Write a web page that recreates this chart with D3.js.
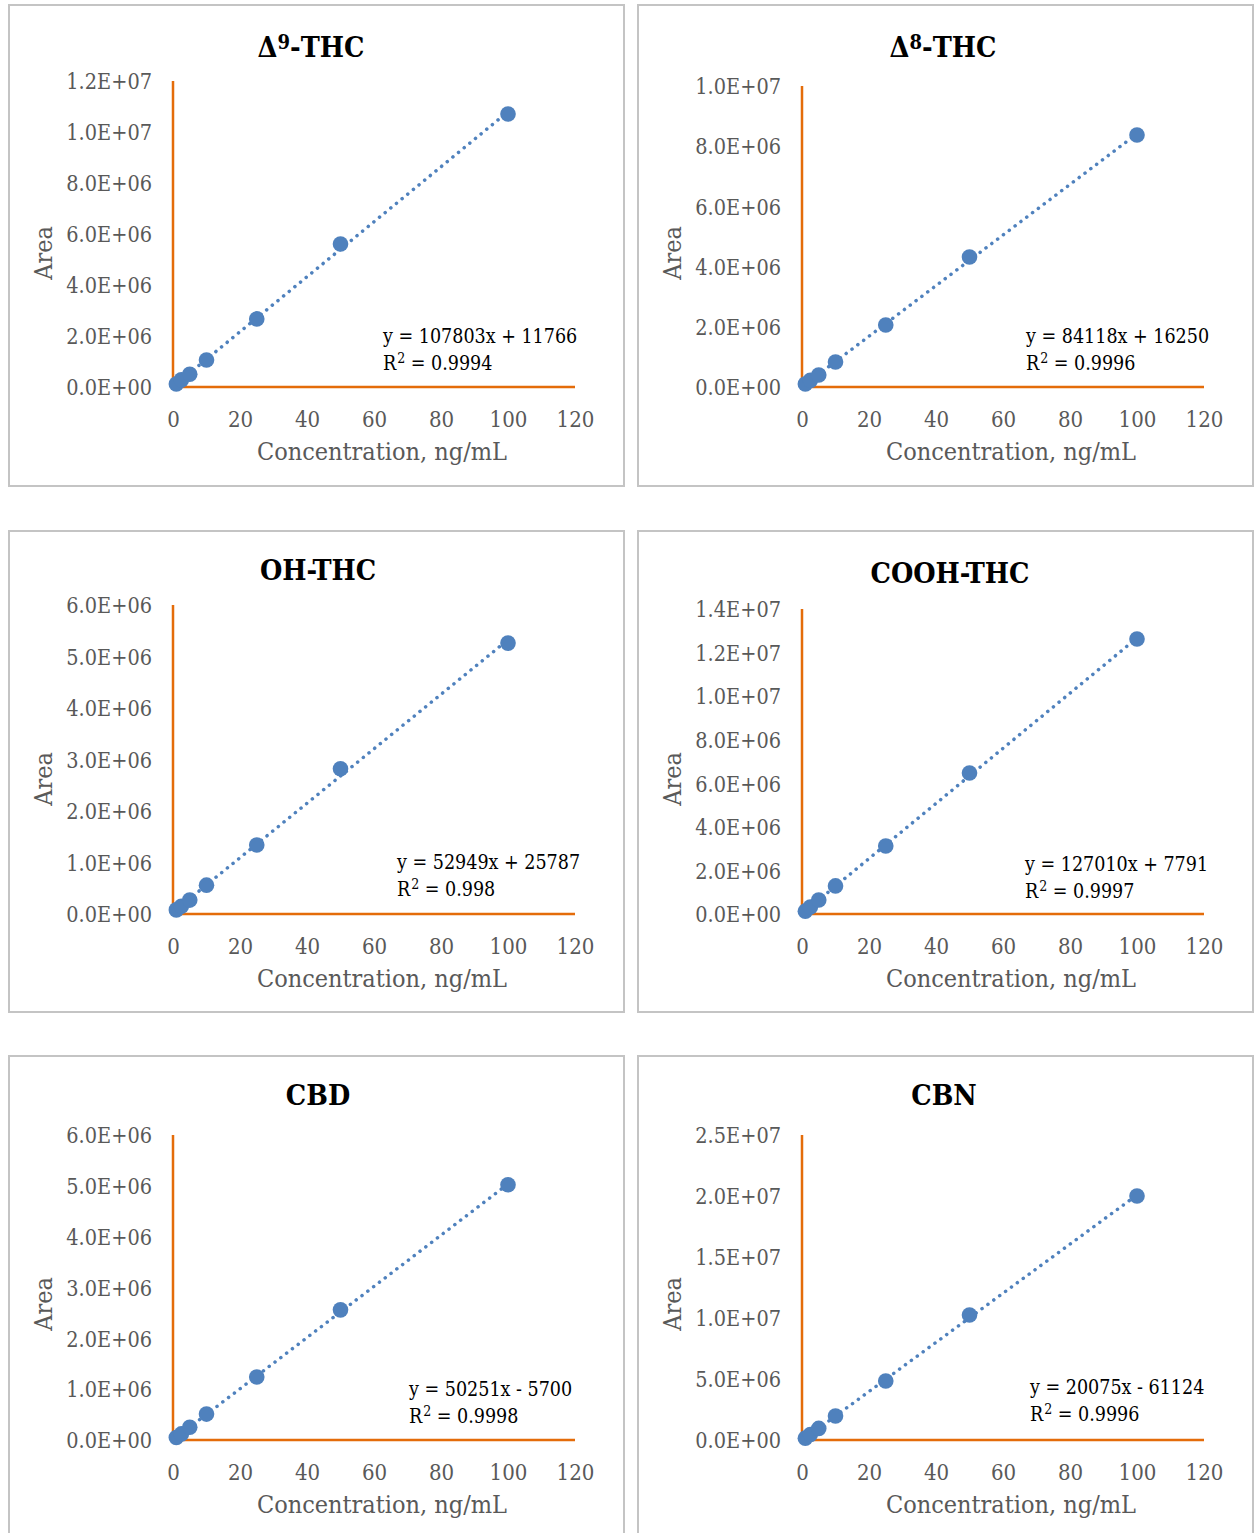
<!DOCTYPE html>
<html>
<head>
<meta charset="utf-8">
<script src="https://cdn.jsdelivr.net/npm/d3@7"></script>
<style>
  html, body { margin: 0; padding: 0; background: #fff; }
  svg { display: block; }
  text { font-family: "DejaVu Serif", serif; font-stretch: condensed; }
</style>
</head>
<body>
<svg id="chart" width="1259" height="1533"></svg>
<script>
// ---------- DATA ----------
const concentrations = [1, 2.5, 5, 10, 25, 50, 100];
const analytes = ["Δ9-THC", "Δ8-THC", "OH-THC", "COOH-THC", "CBD", "CBN"];
const areaD9THC  = [120000, 280000, 500000, 1060000, 2670000, 5610000, 10706000];
const areaD8THC  = [100000, 220000, 400000, 830000, 2060000, 4320000, 8370000];
const areaOHTHC  = [80000, 150000, 270000, 560000, 1340000, 2820000, 5260000];
const areaCOOHTHC= [130000, 320000, 640000, 1290000, 3120000, 6470000, 12620000];
const areaCBD    = [50000, 120000, 250000, 510000, 1240000, 2560000, 5020000];
const areaCBN    = [150000, 450000, 950000, 1970000, 4840000, 10250000, 20000000];
// regression labels as printed on the chart
const slopes     = [107803, 84118, 52949, 127010, 50251, 20075];
const intercepts = [11766, 16250, 25787, 7791, -5700, -61124];
const r2Values   = ["0.9994", "0.9996", "0.998", "0.9997", "0.9998", "0.9996"];
const xTicks = [0, 20, 40, 60, 80, 100, 120];
const yTicksD9THC   = [0, 2e6, 4e6, 6e6, 8e6, 1e7, 1.2e7];
const yTicksD8THC   = [0, 2e6, 4e6, 6e6, 8e6, 1e7];
const yTicksOHTHC   = [0, 1e6, 2e6, 3e6, 4e6, 5e6, 6e6];
const yTicksCOOHTHC = [0, 2e6, 4e6, 6e6, 8e6, 1e7, 1.2e7, 1.4e7];
const yTicksCBD     = [0, 1e6, 2e6, 3e6, 4e6, 5e6, 6e6];
const yTicksCBN     = [0, 5e6, 1e7, 1.5e7, 2e7, 2.5e7];
const xTitle = "Concentration, ng/mL";
const yTitle = "Area";

const seriesList = [areaD9THC, areaD8THC, areaOHTHC, areaCOOHTHC, areaCBD, areaCBN];
const yTickList = [yTicksD9THC, yTicksD8THC, yTicksOHTHC, yTicksCOOHTHC, yTicksCBD, yTicksCBN];

// ---------- LAYOUT ----------
const panelW = 615, panelH = 481;
const panelOrigins = [[9,5],[638,5],[9,531],[638,531],[9,1056],[638,1056]];
const plotTop = [76, 81, 74, 78, 79, 79];
const plotBottom = [382, 382, 383, 383, 384, 384];
const titleX = [302, 305, 309, 312, 309, 306];
const titleY = [52, 52, 49, 52, 49, 49];
const eqX = [374, 388, 388, 387, 400, 392];
const eqY = [338, 338, 338, 340, 340, 338];

const blue = "#4f81bd", orange = "#e46c0a", gray = "#595959";

const svg = d3.select("#chart");

function fmtE(v) {
  if (v === 0) return "0.0E+00";
  const s = v.toExponential(1).toUpperCase();
  return s.replace(/E([+-])(\d)$/, "E$10$2");
}

// least-squares fit of the plotted points (for the drawn trendline)
function fit(xs, ys) {
  const mx = d3.mean(xs), my = d3.mean(ys);
  let num = 0, den = 0;
  xs.forEach((xv, k) => { num += (xv - mx) * (ys[k] - my); den += (xv - mx) ** 2; });
  const b = num / den;
  return [b, my - b * mx];
}

analytes.forEach((name, i) => {
  const [ox, oy] = panelOrigins[i];
  const g = svg.append("g").attr("transform", `translate(${ox},${oy})`);
  g.append("rect").attr("x", 0).attr("y", 0).attr("width", panelW).attr("height", panelH)
    .attr("fill", "#fff").attr("stroke", "#c4c4c4").attr("stroke-width", 2);

  const yt = yTickList[i];
  const x = d3.scaleLinear().domain([0, 120]).range([164, 566]);
  const y = d3.scaleLinear().domain([0, yt[yt.length - 1]]).range([plotBottom[i], plotTop[i]]);

  const xAxis = d3.axisBottom(x).tickValues(xTicks).tickSize(0).tickPadding(0).tickFormat(d3.format("d"));
  const xg = g.append("g").attr("transform", `translate(0,${plotBottom[i]})`).call(xAxis);
  xg.select(".domain").remove();
  xg.selectAll("text").attr("dy", null).attr("y", 40).attr("fill", gray)
    .style("font-size", "22px").style("font-family", null);

  const yAxis = d3.axisLeft(y).tickValues(yt).tickSize(0).tickPadding(0).tickFormat(fmtE);
  const yg = g.append("g").attr("transform", `translate(${x(0)},0)`).call(yAxis);
  yg.select(".domain").remove();
  yg.selectAll("text").attr("x", -21).attr("dy", "0.36em").attr("fill", gray)
    .style("font-size", "21.5px").style("font-family", null);

  g.append("line").attr("x1", x(0)).attr("x2", x(120)).attr("y1", y(0)).attr("y2", y(0))
    .attr("stroke", orange).attr("stroke-width", 2.5);
  g.append("line").attr("x1", x(0)).attr("x2", x(0)).attr("y1", y(0)).attr("y2", y(yt[yt.length-1]))
    .attr("stroke", orange).attr("stroke-width", 2.5);

  // trendline
  const ys = seriesList[i];
  const [b, a] = fit(concentrations, ys);
  const x0 = concentrations[0], x1 = concentrations[concentrations.length-1];
  g.append("line")
    .attr("x1", x(x0)).attr("y1", y(b*x0 + a))
    .attr("x2", x(x1)).attr("y2", y(b*x1 + a))
    .attr("stroke", blue).attr("stroke-width", 3.5).attr("stroke-linecap", "round")
    .attr("stroke-dasharray", "0.1 7.2");

  g.selectAll("circle.pt").data(concentrations.map((c, k) => [c, ys[k]]))
    .join("circle").attr("class", "pt")
    .attr("cx", d => x(d[0])).attr("cy", d => y(d[1])).attr("r", 7.8).attr("fill", blue);

  const t = g.append("text").attr("x", titleX[i]).attr("y", titleY[i]).attr("text-anchor", "middle")
    .attr("fill", "#000").style("font-size", "28.5px").style("font-weight", "bold");
  const m = name.match(/^Δ(\d)(.*)$/);
  if (m) {
    t.append("tspan").text("Δ");
    t.append("tspan").text(m[1]).attr("dy", -8).style("font-size", "20px");
    t.append("tspan").text(m[2]).attr("dy", 8);
  } else {
    t.text(name);
  }

  g.append("text").attr("x", 373).attr("y", plotBottom[i] + 73).attr("text-anchor", "middle")
    .attr("fill", gray).style("font-size", "25px").text(xTitle);
  g.append("text").attr("transform", `translate(34,${248}) rotate(-90)`).attr("text-anchor", "middle")
    .attr("dy", "0.35em").attr("fill", gray).style("font-size", "25px").text(yTitle);

  const sign = intercepts[i] < 0 ? "-" : "+";
  g.append("text").attr("x", eqX[i]).attr("y", eqY[i]).attr("fill", "#000").style("font-size", "19.5px")
    .text(`y = ${slopes[i]}x ${sign} ${Math.abs(intercepts[i])}`);
  const r = g.append("text").attr("x", eqX[i]).attr("y", eqY[i] + 27).attr("fill", "#000").style("font-size", "19.5px");
  r.append("tspan").text("R");
  r.append("tspan").text("2").attr("dy", -7).attr("dx", 1).style("font-size", "14px");
  r.append("tspan").text(` = ${r2Values[i]}`).attr("dy", 7);
});
</script>
</body>
</html>
